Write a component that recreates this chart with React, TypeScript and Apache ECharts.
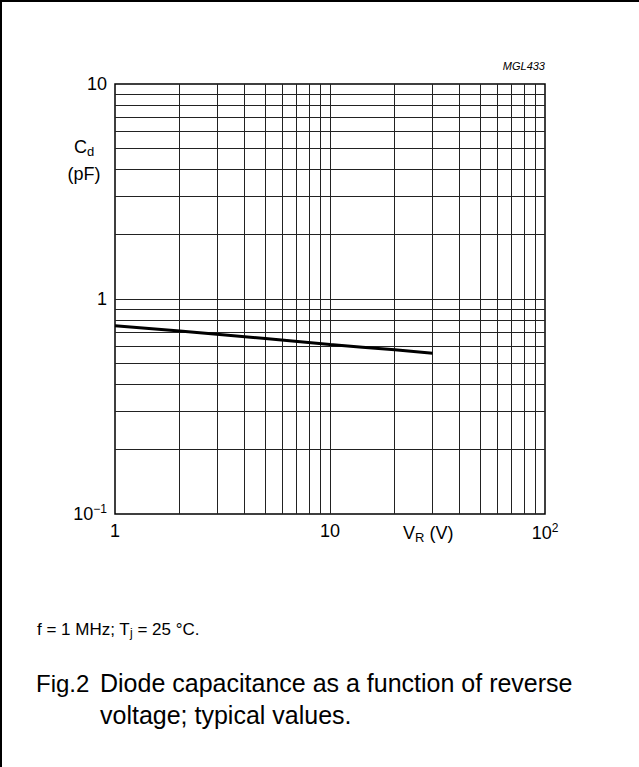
import React, { useEffect, useRef } from "react";
import * as echarts from "echarts";

// Data
const voltage = [1, 2, 5, 10, 20, 30];
const capacitance = [0.75, 0.71, 0.655, 0.615, 0.58, 0.56];

// Minor grid positions (log decades)
const xGridValues = [2, 3, 4, 5, 6, 7, 8, 9, 10, 20, 30, 40, 50, 60, 70, 80, 90];
const yGridValues = [0.2, 0.3, 0.4, 0.5, 0.6, 0.7, 0.8, 0.9, 1, 2, 3, 4, 5, 6, 7, 8, 9];

// Decade tick labels
const xTickLabels: Record<string, string> = { "1": "1", "10": "10", "100": "{n|10}{s|2}" };
const yTickLabels: Record<string, string> = { "0.1": "{n|10}{s|−1}", "1": "1", "10": "10" };

const FONT = "Liberation Sans, Arial, Helvetica, sans-serif";

export default function App() {
  const ref = useRef<HTMLDivElement>(null);
  useEffect(() => {
    if (!ref.current) return;
    const chart = echarts.init(ref.current, null, { renderer: "svg" });
    const rich = {
      n: { fontSize: 18, fontFamily: FONT, color: "#000" },
      s: { fontSize: 12, fontFamily: FONT, color: "#000", padding: [0, 0, 10, 0] },
    };
    const option: any = {
      animation: false,
      backgroundColor: "#fff",
      textStyle: { fontFamily: FONT },
      grid: {
        left: 115,
        top: 84,
        width: 430,
        height: 430,
        show: true,
        borderColor: "#000",
        borderWidth: 1.5,
        backgroundColor: "transparent",
      },
      xAxis: {
        type: "log",
        logBase: 10,
        min: 1,
        max: 100,
        axisLine: { show: false },
        axisTick: { show: false },
        splitLine: { show: false },
        axisLabel: {
          margin: 8,
          fontSize: 18,
          color: "#000",
          fontFamily: FONT,
          formatter: (v: number) => xTickLabels[String(v)] ?? "",
          rich,
        },
      },
      yAxis: {
        type: "log",
        logBase: 10,
        min: 0.1,
        max: 10,
        axisLine: { show: false },
        axisTick: { show: false },
        splitLine: { show: false },
        axisLabel: {
          margin: 8,
          fontSize: 18,
          color: "#000",
          fontFamily: FONT,
          formatter: (v: number) => yTickLabels[String(v)] ?? "",
          rich,
        },
      },
      series: [
        {
          type: "line",
          data: [],
          silent: true,
          z: 1,
          markLine: {
            silent: true,
            symbol: "none",
            animation: false,
            label: { show: false },
            lineStyle: { color: "#222", width: 1, type: "solid" },
            emphasis: { disabled: true },
            data: [
              ...xGridValues.map((v) => ({ xAxis: v })),
              ...yGridValues.map((v) => ({ yAxis: v })),
            ],
          },
        },
        {
          type: "line",
          data: voltage.map((v, i) => [v, capacitance[i]]),
          showSymbol: false,
          smooth: true,
          lineStyle: { color: "#000", width: 3 },
          z: 5,
        },
      ],
      graphic: [
        { type: "line", shape: { x1: 0, y1: 1, x2: 639, y2: 1 }, style: { stroke: "#000", lineWidth: 2 } },
        { type: "line", shape: { x1: 1, y1: 0, x2: 1, y2: 767 }, style: { stroke: "#000", lineWidth: 2 } },
        {
          type: "text",
          x: 545,
          y: 66,
          style: {
            text: "MGL433",
            font: `italic 11px ${FONT}`,
            fill: "#000",
            align: "right",
            verticalAlign: "middle",
          },
        },
        {
          type: "text",
          x: 84,
          y: 160,
          style: {
            text: "{n|C}{sub|d}\n{n|(pF)}",
            align: "center",
            verticalAlign: "middle",
            fill: "#000",
            rich: {
              n: { fontSize: 18, fontFamily: FONT, color: "#000", lineHeight: 27 },
              sub: { fontSize: 13, fontFamily: FONT, color: "#000", padding: [9, 0, 0, 0], lineHeight: 27 },
            },
          },
        },
        {
          type: "text",
          x: 403,
          y: 533,
          style: {
            text: "{n|V}{sub|R}{n| (V)}",
            fill: "#000",
            verticalAlign: "middle",
            rich: {
              n: { fontSize: 18, fontFamily: FONT, color: "#000", lineHeight: 24 },
              sub: { fontSize: 13, fontFamily: FONT, color: "#000", padding: [9, 0, 0, 0], lineHeight: 24 },
            },
          },
        },
        {
          type: "text",
          x: 37,
          y: 629,
          style: {
            text: "{n|f = 1 MHz; T}{sub|j}{n| = 25 °C.}",
            fill: "#000",
            verticalAlign: "middle",
            rich: {
              n: { fontSize: 17, fontFamily: FONT, color: "#000", lineHeight: 22 },
              sub: { fontSize: 12, fontFamily: FONT, color: "#000", padding: [8, 0, 0, 0], lineHeight: 22 },
            },
          },
        },
        {
          type: "text",
          x: 36,
          y: 683,
          style: { text: "Fig.2", font: `24px ${FONT}`, fill: "#000", verticalAlign: "middle" },
        },
        {
          type: "text",
          x: 100,
          y: 683,
          style: {
            text: "Diode capacitance as a function of reverse",
            font: `25px ${FONT}`,
            fill: "#000",
            verticalAlign: "middle",
          },
        },
        {
          type: "text",
          x: 100,
          y: 715,
          style: {
            text: "voltage; typical values.",
            font: `25px ${FONT}`,
            fill: "#000",
            verticalAlign: "middle",
          },
        },
      ],
    };
    chart.setOption(option);
    return () => chart.dispose();
  }, []);
  return (
    <div
      ref={ref}
      style={{ position: "fixed", left: 0, top: 0, width: 639, height: 767, background: "#fff" }}
    />
  );
}
